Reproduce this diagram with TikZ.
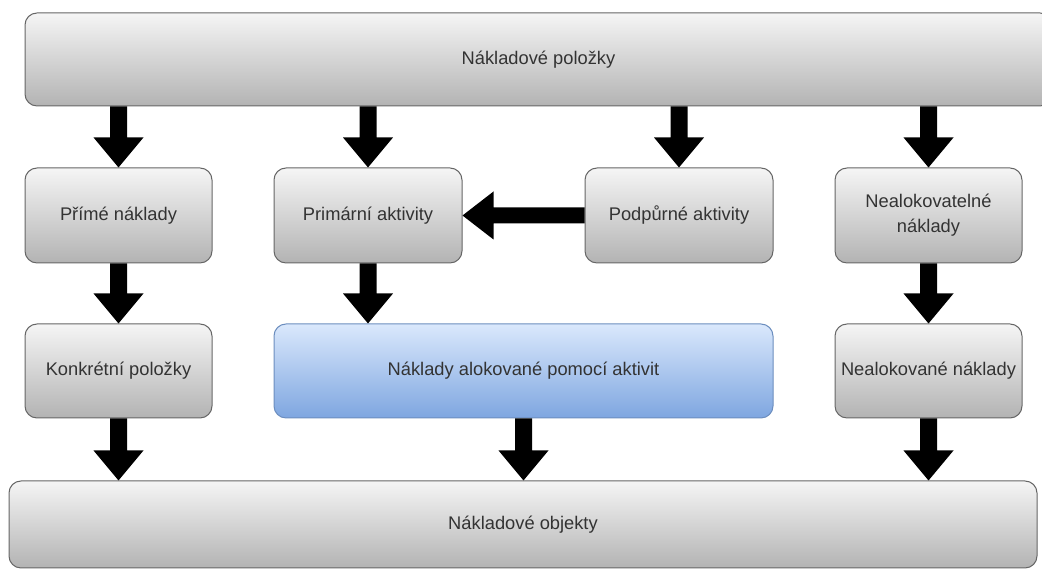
\documentclass[tikz,border=0pt]{standalone}
\usepackage{fontspec}
\setmainfont{Liberation Sans}
\usetikzlibrary{calc}

\definecolor{boxline}{HTML}{666666}
\definecolor{boxtop}{HTML}{F5F5F5}
\definecolor{boxbot}{HTML}{B3B3B3}
\definecolor{bluetop}{HTML}{DAE8FC}
\definecolor{bluebot}{HTML}{7EA6E0}
\definecolor{blueline}{HTML}{6C8EBF}
\definecolor{label}{HTML}{333333}

\tikzset{
  box/.style={rectangle, rounded corners=12pt, draw=boxline, line width=1pt,
    top color=boxtop, bottom color=boxbot, inner sep=0pt,
    text=label, align=center, font=\fontsize{18.3}{25}\selectfont},
  bluebox/.style={box, draw=blueline, top color=bluetop, bottom color=bluebot},
  blockfill/.style={fill=black},
}

% thick block arrow pointing down, from #1 (upper end) to #2 (tip)
\newcommand\downblk[2]{%
  \fill[blockfill] let \p1=(#1), \p2=(#2) in
    (\x1-8.5pt,\y1) -- (\x1+8.5pt,\y1) -- (\x1+8.5pt,\y2+30pt) --
    (\x1+25pt,\y2+30pt) -- (\x1,\y2) -- (\x1-25pt,\y2+30pt) --
    (\x1-8.5pt,\y2+30pt) -- cycle;}
% thick block arrow pointing left, from #1 (right end) to #2 (tip)
\newcommand\leftblk[2]{%
  \fill[blockfill] let \p1=(#1), \p2=(#2) in
    (\x1,\y1-8pt) -- (\x2+31pt,\y1-8pt) -- (\x2+31pt,\y1-24pt) --
    (\x2,\y1) -- (\x2+31pt,\y1+24pt) -- (\x2+31pt,\y1+8pt) --
    (\x1,\y1+8pt) -- cycle;}

\begin{document}
\begin{tikzpicture}[x=1pt,y=1pt]
  \clip (0,0) rectangle (1042,569);
  \fill[white] (0,0) rectangle (1042,569);

  \node[box, minimum width=1027pt, minimum height=93pt] (items) at (538.5,509.5) {Nákladové položky};

  \node[box, minimum width=187pt, minimum height=95pt] (direct) at (118.5,353.5) {Přímé náklady};
  \node[box, minimum width=188pt, minimum height=95pt] (primary) at (368,353.5) {Primární aktivity};
  \node[box, minimum width=188pt, minimum height=95pt] (support) at (679,353.5) {Podpůrné aktivity};
  \node[box, minimum width=187pt, minimum height=95pt] (nonalloc) at (928.5,353.5) {Nealokovatelné\\náklady};

  \node[box, minimum width=187pt, minimum height=94pt] (specific) at (118.5,198) {Konkrétní položky};
  \node[bluebox, minimum width=499pt, minimum height=94pt] (abc) at (523.5,198) {Náklady alokované pomocí aktivit};
  \node[box, minimum width=187pt, minimum height=94pt] (unalloc) at (928.5,198) {Nealokované náklady};

  \node[box, minimum width=1028pt, minimum height=87pt] (objects) at (523,44.5) {Nákladové objekty};

  % cost items to the four second-row boxes
  \downblk{items.south -| direct}{direct.north}
  \downblk{items.south -| primary}{primary.north}
  \downblk{items.south -| support}{support.north}
  \downblk{items.south -| nonalloc}{nonalloc.north}

  % support activities feed the primary activities
  \leftblk{support.west}{primary.east}

  % second row to third row
  \downblk{direct.south}{direct.south |- specific.north}
  \downblk{primary.south}{primary.south |- abc.north}
  \downblk{nonalloc.south}{nonalloc.south |- unalloc.north}

  % third row to cost objects
  \downblk{specific.south}{specific.south |- objects.north}
  \downblk{abc.south}{abc.south |- objects.north}
  \downblk{unalloc.south}{unalloc.south |- objects.north}
\end{tikzpicture}
\end{document}
